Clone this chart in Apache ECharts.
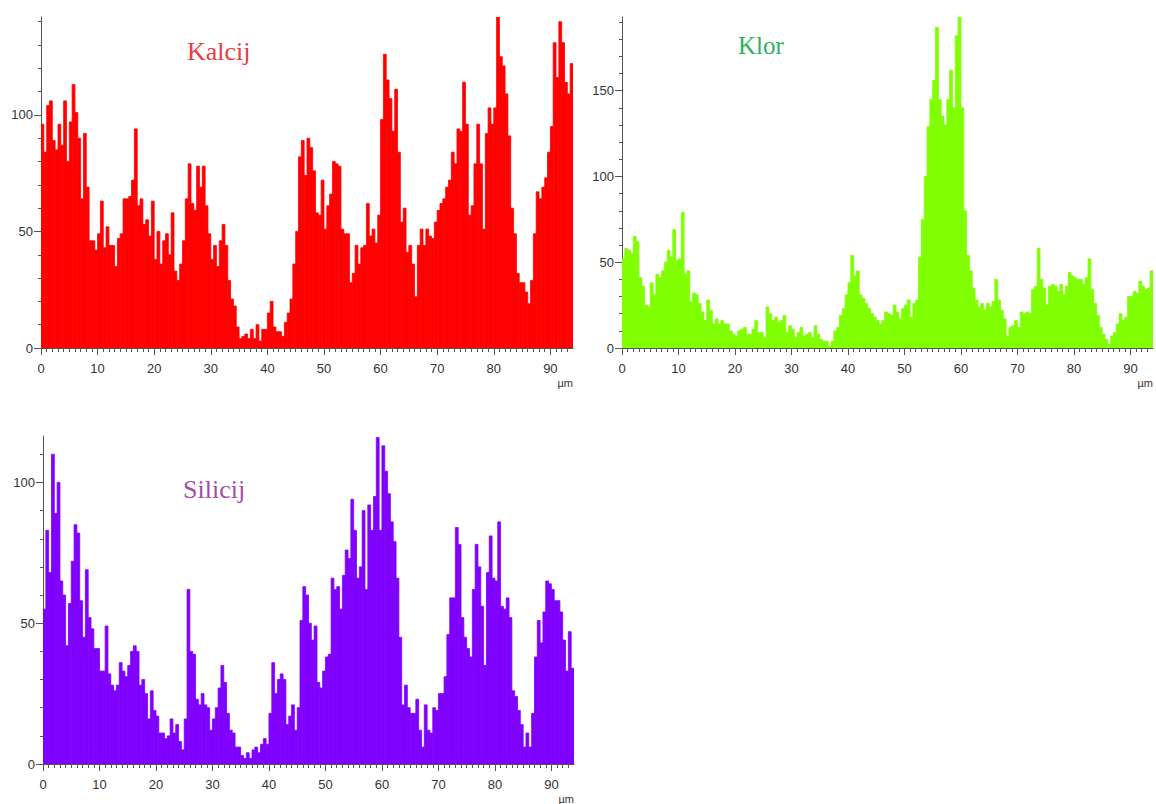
<!DOCTYPE html>
<html>
<head>
<meta charset="utf-8">
<script src="https://cdn.jsdelivr.net/npm/echarts@6/dist/echarts.min.js"></script>
<style>
html,body{margin:0;padding:0;background:#fff;}
#chart{width:1156px;height:804px;}
</style>
</head>
<body>
<div id="chart"></div>
<script>
// Bin width (µm) and start of the scan
const binWidth = 0.5;
const xStart = 0;
const xMax = 94;
const xMajorTicks = [0,10,20,30,40,50,60,70,80,90];

// Kalcij (Ca) counts per 0.5 µm bin
const kalcij = [
96,84,104,106,89,85,96,87,106,80,
97,113,101,90,64,92,69,46,46,42,
49,63,43,52,44,44,35,47,49,64,
64,65,72,94,61,64,53,55,48,63,
38,50,36,46,49,40,58,33,29,36,
46,64,79,62,59,78,69,78,61,49,
38,44,35,46,53,44,29,21,18,9,
4,5,6,4,8,4,10,3,8,8,
15,20,9,7,7,5,11,15,21,36,
50,82,89,74,90,86,76,58,57,72,
51,61,66,80,79,78,51,49,49,28,
32,44,36,43,44,62,48,51,45,57,
98,126,115,107,93,111,84,54,60,41,
44,36,22,44,51,44,51,48,47,54,
59,62,64,69,72,84,79,94,93,114,
96,57,61,79,96,79,51,92,103,96,
103,142,125,121,109,91,60,49,32,28,
28,24,19,29,49,67,64,69,73,84,
95,131,116,140,131,114,109,122
];

// Klor (Cl) counts per 0.5 µm bin
const klor = [
52,58,57,55,65,62,41,36,25,24,
38,31,43,41,45,50,57,53,69,51,
52,79,43,45,27,32,31,26,21,16,
28,22,14,17,14,16,14,14,10,8,
7,10,11,12,8,8,11,16,9,9,
6,24,20,16,18,15,16,19,9,13,
11,6,9,12,7,8,9,6,13,8,
5,4,4,1,4,10,12,19,23,31,
38,54,42,45,31,29,26,23,20,18,
16,14,16,21,20,19,25,21,17,23,
25,28,18,26,28,53,75,100,129,145,
156,187,145,135,130,145,162,140,182,193,
140,80,54,45,35,28,24,26,22,26,
24,27,40,28,22,17,7,12,13,16,
12,21,20,21,20,34,36,58,40,35,
25,36,37,36,33,37,31,36,44,42,
41,40,40,37,41,52,34,26,19,12,
8,5,2,7,9,14,20,16,18,30,
30,33,32,39,36,34,35,45
];

// Silicij (Si) counts per 0.5 µm bin
const silicij = [
55,83,68,110,89,100,65,60,42,57,
72,85,82,58,45,69,52,48,41,41,
33,33,49,32,28,26,28,36,33,31,
35,40,42,40,28,30,25,16,26,19,
17,11,11,9,10,16,11,14,8,5,
16,62,40,39,23,21,25,21,20,12,
16,20,27,35,29,18,12,11,6,6,
3,2,4,2,5,6,4,7,9,7,
18,36,25,30,32,30,14,17,21,12,
20,51,63,60,50,44,49,29,27,33,
38,39,66,62,63,55,67,76,73,94,
83,66,70,90,62,92,83,95,116,83,
113,104,96,86,79,66,45,21,28,20,
18,18,23,12,6,21,12,11,20,19,
25,25,31,46,59,59,84,78,52,45,
41,38,62,78,70,56,35,68,81,66,
65,86,56,55,59,52,26,24,19,14,
6,11,6,18,38,51,43,54,65,64,
62,58,58,54,44,33,47,34
];

const titles = ['Kalcij', 'Klor', 'Silicij'];
const titleColors = ['#ee3a42', '#2fb35c', '#a64ca8'];
const barColors = ['#ff0000', '#80ff00', '#7f00ff'];
const yMaxes = [142, 193, 116.5];
const yMajorTicks = [[0,50,100],[0,50,100,150],[0,50,100]];
const series = [kalcij, klor, silicij];

const grids = [
  {left: 41, top: 17, width: 532, height: 331},
  {left: 622, top: 17, width: 531, height: 331},
  {left: 43, top: 436, width: 531, height: 331}
];
const titlePos = [
  {left: 187, top: 38, size: 26},
  {left: 738, top: 33, size: 25},
  {left: 183, top: 476, size: 26}
];

const minorX = [];
for (let v = 1; v < xMax; v++) if (v % 10 !== 0) minorX.push(v);

const axisColor = '#555';
const labelStyle = {color: '#333', fontSize: 13, fontFamily: 'Liberation Sans, Arial, sans-serif'};

const xAxes = [], yAxes = [], seriesOpts = [], titleOpts = [];
grids.forEach((g, i) => {
  const minorY = [];
  for (let v = 10; v < yMaxes[i]; v += 10) if (v % 50 !== 0) minorY.push(v);
  xAxes.push({
    gridIndex: i, type: 'value', position: 'bottom', min: 0, max: xMax, interval: 10,
    axisLine: {show: true, lineStyle: {color: axisColor, width: 1}},
    axisTick: {show: true, length: 7, customValues: xMajorTicks, lineStyle: {color: axisColor}},
    axisLabel: Object.assign({customValues: xMajorTicks, margin: 14}, labelStyle),
    splitLine: {show: false},
    name: 'µm', nameLocation: 'end', nameGap: 0,
    nameTextStyle: {color: '#333', fontSize: 11, fontFamily: 'Liberation Sans, Arial, sans-serif',
      align: 'right', verticalAlign: 'top', padding: [29, 0, 0, 0]}
  });
  xAxes.push({
    gridIndex: i, type: 'value', position: 'bottom', min: 0, max: xMax, interval: 10,
    axisLine: {show: false},
    axisTick: {show: true, length: 4, customValues: minorX, lineStyle: {color: axisColor}},
    axisLabel: {show: false},
    splitLine: {show: false}
  });
  yAxes.push({
    gridIndex: i, type: 'value', position: 'left', min: 0, max: yMaxes[i], interval: 50,
    axisLine: {show: true, lineStyle: {color: axisColor, width: 1}},
    axisTick: {show: true, length: 7, customValues: yMajorTicks[i], lineStyle: {color: axisColor}},
    axisLabel: Object.assign({customValues: yMajorTicks[i], margin: 8}, labelStyle),
    splitLine: {show: false}
  });
  yAxes.push({
    gridIndex: i, type: 'value', position: 'left', min: 0, max: yMaxes[i], interval: 50,
    axisLine: {show: false},
    axisTick: {show: true, length: 3, customValues: minorY, lineStyle: {color: axisColor}},
    axisLabel: {show: false},
    splitLine: {show: false}
  });
  const data = series[i].map((v, k) => [xStart + k * binWidth, v]);
  const color = barColors[i];
  seriesOpts.push({
    type: 'custom', name: titles[i], xAxisIndex: i * 2, yAxisIndex: i * 2,
    data: data, clip: true,
    renderItem: function (params, api) {
      const x0 = api.value(0), v = api.value(1);
      const p0 = api.coord([x0, v]);
      const p1 = api.coord([x0 + binWidth, 0]);
      return {
        type: 'rect',
        shape: {x: p0[0], y: p0[1], width: p1[0] - p0[0], height: p1[1] - p0[1]},
        style: {fill: color, stroke: color, lineWidth: 0.8}
      };
    }
  });
  titleOpts.push({
    text: titles[i], left: titlePos[i].left, top: titlePos[i].top, padding: 0,
    textStyle: {fontFamily: 'Liberation Serif, Times New Roman, serif', fontWeight: 'normal',
      fontSize: titlePos[i].size, color: titleColors[i]}
  });
});

const chart = echarts.init(document.getElementById('chart'), null, {renderer: 'svg'});
chart.setOption({
  animation: false,
  backgroundColor: '#fff',
  title: titleOpts,
  grid: grids,
  xAxis: xAxes,
  yAxis: yAxes,
  series: seriesOpts
});
</script>
</body>
</html>
